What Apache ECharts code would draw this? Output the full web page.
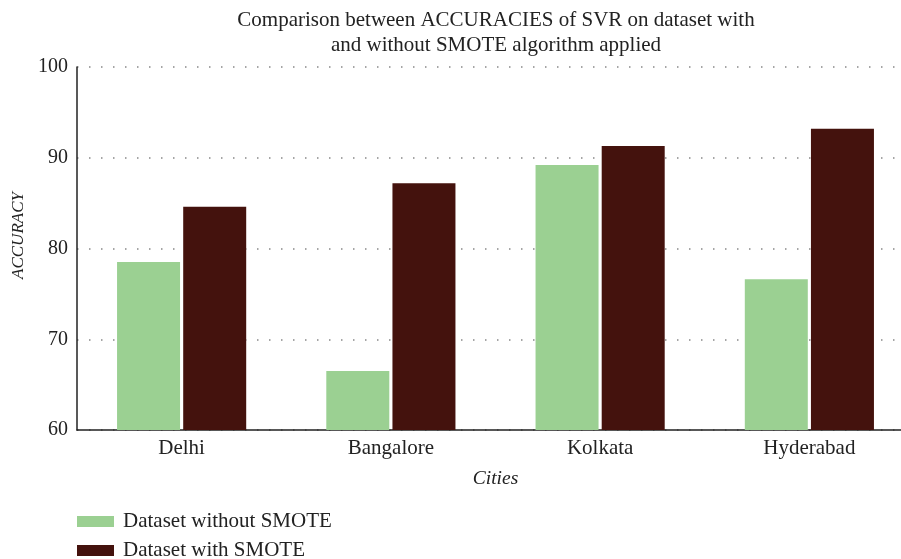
<!DOCTYPE html>
<html>
<head>
<meta charset="utf-8">
<script src="https://cdn.jsdelivr.net/npm/echarts@6/dist/echarts.min.js"></script>
<style>
  html, body { margin: 0; padding: 0; background: #fff; }
  #chart { width: 901px; height: 559px; }
</style>
</head>
<body>
<div id="chart"></div>
<script>
const cities = ["Delhi", "Bangalore", "Kolkata", "Hyderabad"];
const withoutSmote = [78.5, 66.5, 89.2, 76.6];
const withSmote = [84.6, 87.2, 91.3, 93.2];
const seriesNames = ["Dataset without SMOTE", "Dataset with SMOTE"];

const serif = "'Liberation Serif', 'DejaVu Serif', serif";
const chart = echarts.init(document.getElementById("chart"));

// one legend per row so they stack like the original
const legendRow = (name, top) => ({
  left: 77,
  top: top,
  padding: 0,
  itemWidth: 37,
  itemHeight: 11,
  icon: "rect",
  data: [name],
  textStyle: { fontFamily: serif, fontSize: 21, lineHeight: 11, color: "#222", padding: [0, 0, 0, 4] },
});

chart.setOption({
  animation: false,
  textStyle: { fontFamily: serif, color: "#222" },
  title: {
    text: "Comparison between ACCURACIES of SVR on dataset with\nand without SMOTE algorithm applied",
    left: 496,
    top: 8,
    padding: 0,
    textAlign: "center",
    textStyle: { fontFamily: serif, fontSize: 21, fontWeight: "normal", color: "#222", lineHeight: 25 },
  },
  legend: [legendRow(seriesNames[0], 511), legendRow(seriesNames[1], 540)],
  // the original plot runs a little past the right edge of the image
  grid: { left: 77, right: -13, top: 67, bottom: 129, outerBoundsMode: "none", containLabel: false },
  xAxis: {
    type: "category",
    data: cities,
    name: "Cities",
    nameLocation: "middle",
    nameGap: 39,
    nameTextStyle: { fontFamily: serif, fontSize: 19.5, fontStyle: "italic", color: "#222" },
    axisLine: { lineStyle: { color: "#222", width: 1.5 } },
    axisTick: { show: false },
    axisLabel: { fontFamily: serif, fontSize: 21, color: "#222", margin: 8 },
  },
  yAxis: {
    type: "value",
    min: 60,
    max: 100,
    interval: 10,
    name: "ACCURACY",
    nameLocation: "middle",
    nameGap: 47,
    nameTextStyle: { fontFamily: serif, fontSize: 17, fontStyle: "italic", color: "#222", padding: [0, 0, 0, 26] },
    axisLine: { show: true, lineStyle: { color: "#222", width: 1.5 } },
    axisTick: { show: false },
    axisLabel: { fontFamily: serif, fontSize: 20, color: "#222", margin: 9 },
    splitLine: { lineStyle: { color: "#888", width: 1.5, type: [1.5, 10.5] } },
  },
  series: [
    {
      name: seriesNames[0],
      type: "bar",
      data: withoutSmote,
      barWidth: 63,
      barGap: "5%",
      itemStyle: { color: "#9bd092" },
    },
    {
      name: seriesNames[1],
      type: "bar",
      data: withSmote,
      barWidth: 63,
      itemStyle: { color: "#44120d" },
    },
  ],
});
</script>
</body>
</html>
